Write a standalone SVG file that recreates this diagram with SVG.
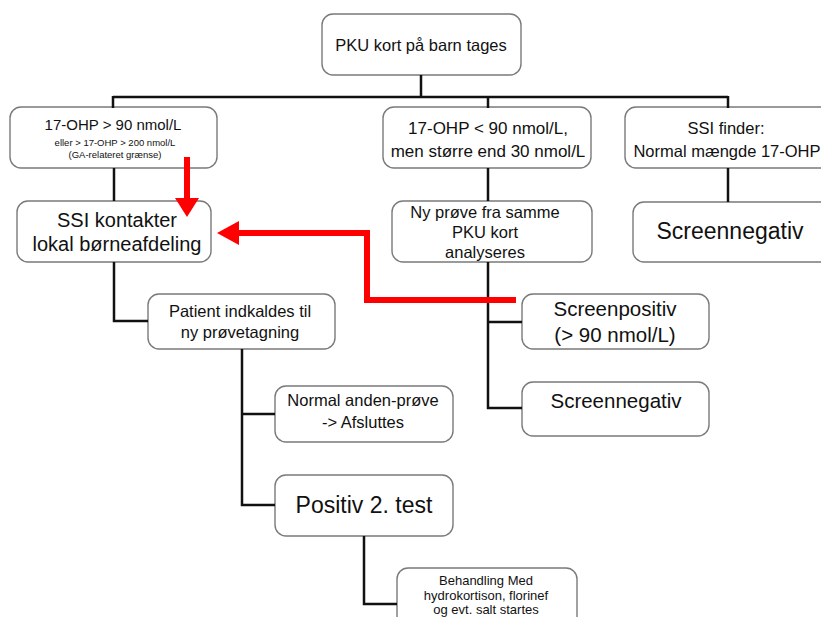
<svg xmlns="http://www.w3.org/2000/svg" width="821" height="617" viewBox="0 0 821 617">
<style>
.box{fill:#fff;stroke:#7a7a7a;stroke-width:1.4}
.t{font-family:"Liberation Sans",Arial,sans-serif;fill:#111;text-anchor:middle}
.m{font-size:16.5px}
.l{font-size:20.5px}
.xl{font-size:23px}
.s{font-size:9.5px}
.conn{fill:none;stroke:#111;stroke-width:2.5}
.red{fill:none;stroke:#ff0000;stroke-width:6}
</style>
<rect width="821" height="617" fill="#fff"/>
<g id="n-top">
<rect class="box" x="322" y="14" width="199" height="61" rx="11"/>
<text class="t m" x="421" y="51">PKU kort på barn tages</text>
</g>
<g id="n-a">
<rect class="box" x="10" y="107" width="207" height="61" rx="11"/>
<text class="t" x="113" y="130" font-size="15">17-OHP &gt; 90 nmol/L</text>
<text class="t s" x="115" y="146">eller &gt; 17-OHP &gt; 200 nmol/L</text>
<text class="t s" x="115" y="158">(GA-relateret grænse)</text>
</g>
<g id="n-b">
<rect class="box" x="383" y="107" width="208" height="61" rx="11"/>
<text class="t" x="488" y="134" font-size="17">17-OHP &lt; 90 nmol/L,</text>
<text class="t" x="488" y="157" font-size="17">men større end 30 nmol/L</text>
</g>
<g id="n-c">
<rect class="box" x="625" y="107" width="210" height="61" rx="11"/>
<text class="t m" x="726" y="134">SSI finder:</text>
<text class="t m" x="727" y="157">Normal mængde 17-OHP</text>
</g>
<g id="n-ssi">
<rect class="box" x="17" y="201" width="194" height="61" rx="11"/>
<text class="t" x="117" y="227" font-size="20">SSI kontakter</text>
<text class="t" x="117" y="251" font-size="20">lokal børneafdeling</text>
</g>
<g id="n-ny">
<rect class="box" x="392" y="201" width="200" height="61" rx="11"/>
<text class="t m" x="485" y="218">Ny prøve fra samme</text>
<text class="t m" x="485" y="238">PKU kort</text>
<text class="t m" x="485" y="258">analyseres</text>
</g>
<g id="n-neg1">
<rect class="box" x="633" y="202" width="200" height="60" rx="11"/>
<text class="t xl" x="730" y="239">Screennegativ</text>
</g>
<g id="n-patient">
<rect class="box" x="148" y="294" width="187" height="55" rx="11"/>
<text class="t m" x="240" y="317">Patient indkaldes til</text>
<text class="t m" x="240" y="338">ny prøvetagning</text>
</g>
<g id="n-pos">
<rect class="box" x="522" y="294" width="187" height="55" rx="11"/>
<text class="t l" x="615" y="316">Screenpositiv</text>
<text class="t l" x="615" y="342">(&gt; 90 nmol/L)</text>
</g>
<g id="n-normal">
<rect class="box" x="275" y="386" width="178" height="56" rx="11"/>
<text class="t m" x="363" y="406">Normal anden-prøve</text>
<text class="t m" x="363" y="428">-&gt; Afsluttes</text>
</g>
<g id="n-neg2">
<rect class="box" x="522" y="382" width="187" height="54" rx="11"/>
<text class="t l" x="616" y="408">Screennegativ</text>
</g>
<g id="n-pos2">
<rect class="box" x="275" y="475" width="178" height="61" rx="11"/>
<text class="t xl" x="364" y="513">Positiv 2. test</text>
</g>
<g id="n-beh">
<rect class="box" x="397" y="568" width="180" height="70" rx="11"/>
<text class="t" x="486" y="585" font-size="13">Behandling Med</text>
<text class="t" x="486" y="600" font-size="13">hydrokortison, florinef</text>
<text class="t" x="486" y="614" font-size="13">og evt. salt startes</text>
</g>
<g id="connectors">
<path class="conn" d="M421 75V97M113 97H728M113 96V108M488 96V108M728 96V108"/>
<path class="conn" d="M114 168V201M114 262V321H148"/>
<path class="conn" d="M488 168V201M488 262V408H522M488 322H522"/>
<path class="conn" d="M728 168V202"/>
<path class="conn" d="M242 349V505H275M242 414H275"/>
<path class="conn" d="M364 536V604H397"/>
<path class="red" d="M187 157V199"/>
<polygon points="175,198 199,198 187,217" fill="#ff0000"/>
<path class="red" d="M516 300H367V233H238"/>
<polygon points="239,221 239,245 217,233" fill="#ff0000"/>
</g>
</svg>
